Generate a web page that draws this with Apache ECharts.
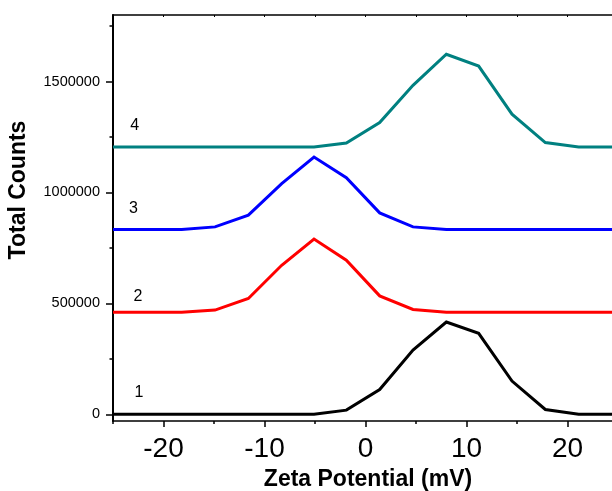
<!DOCTYPE html>
<html>
<head>
<meta charset="utf-8">
<script src="https://cdn.jsdelivr.net/npm/echarts@6/dist/echarts.min.js"></script>
<style>html,body{margin:0;padding:0;background:#fff;}#c{width:612px;height:491px;}</style>
</head>
<body>
<div id="c"></div>
<script>
// Zeta potential (mV)
const zeta = [-25.0, -21.5, -18.2, -14.9, -11.6, -8.3, -5.1, -1.9, 1.4, 4.7, 8.0, 11.2, 14.5, 17.8, 21.1, 24.4];
// Total counts for each curve
const counts1 = [0, 0, 0, 0, 0, 0, 0, 19000, 112000, 290000, 416000, 365000, 150000, 22000, 0, 0];
const counts2 = [460000, 460000, 460000, 470000, 522000, 672000, 790000, 695000, 534000, 473000, 460000, 460000, 460000, 460000, 460000, 460000];
const counts3 = [833000, 833000, 833000, 845000, 898000, 1040000, 1160000, 1067000, 908000, 845000, 833000, 833000, 833000, 833000, 833000, 833000];
const counts4 = [1205000, 1205000, 1205000, 1205000, 1205000, 1205000, 1205000, 1223000, 1315000, 1483000, 1623000, 1570000, 1353000, 1225000, 1205000, 1205000];
const curveNames = ['1', '2', '3', '4'];
const curveColors = ['#000000', '#ff0000', '#0000ff', '#008080'];
const xMajor = [-20, -10, 0, 10, 20];
const xMinor = [-25, -15, -5, 5, 15];
const yMajor = [0, 500000, 1000000, 1500000];
const yMinor = [250000, 750000, 1250000, 1750000];
const xTitle = 'Zeta Potential (mV)';
const yTitle = 'Total Counts';

const allCounts = [counts1, counts2, counts3, counts4];
const chart = echarts.init(document.getElementById('c'), null, {renderer: 'canvas'});
const FONT = 'Liberation Sans, Arial, sans-serif';
const axisLineStyle = {color: '#000', width: 1.5};
const X_MIN = -25, X_MAX = 24.4;

const series = allCounts.map((arr, i) => ({
  name: curveNames[i],
  type: 'line',
  xAxisIndex: 0,
  yAxisIndex: 0,
  data: zeta.map((x, k) => [x, arr[k]]),
  showSymbol: false,
  symbol: 'none',
  lineStyle: {color: curveColors[i], width: 3, join: 'miter'},
  itemStyle: {color: curveColors[i]},
  z: 3 + i,
  animation: false
}));

const option = {
  animation: false,
  backgroundColor: '#fff',
  grid: {left: 113, top: 15, right: 0, height: 406, containLabel: false},
  xAxis: [
    {
      type: 'value', min: X_MIN, max: X_MAX, position: 'bottom',
      axisLine: {show: true, onZero: false, lineStyle: axisLineStyle},
      axisTick: {show: true, inside: false, length: 6, customValues: xMajor, lineStyle: {color: '#000', width: 1.5}},
      axisLabel: {show: true, customValues: xMajor, fontSize: 28, color: '#000', fontFamily: FONT, margin: 14},
      splitLine: {show: false}
    },
    {
      type: 'value', min: X_MIN, max: X_MAX, position: 'bottom', gridIndex: 0,
      axisLine: {show: false, onZero: false},
      axisTick: {show: true, inside: false, length: 3, customValues: xMinor, lineStyle: {color: '#000', width: 1.5}},
      axisLabel: {show: false},
      splitLine: {show: false}
    },
    {
      type: 'value', min: X_MIN, max: X_MAX, position: 'top', gridIndex: 0,
      axisLine: {show: true, onZero: false, lineStyle: axisLineStyle},
      axisTick: {show: true, inside: true, length: 2, customValues: xMajor.concat(xMinor), lineStyle: {color: '#000', width: 1}},
      axisLabel: {show: false},
      splitLine: {show: false}
    }
  ],
  yAxis: [
    {
      type: 'value', min: -30000, max: 1800000, position: 'left',
      axisLine: {show: true, onZero: false, lineStyle: {color: '#000', width: 2}},
      axisTick: {show: true, inside: false, length: 7, customValues: yMajor, lineStyle: {color: '#000', width: 1.5}},
      axisLabel: {show: true, customValues: yMajor, fontSize: 14.5, color: '#000', fontFamily: FONT, margin: 13,
        formatter: v => String(Math.round(v))},
      splitLine: {show: false}
    },
    {
      type: 'value', min: -30000, max: 1800000, position: 'left',
      axisLine: {show: false, onZero: false},
      axisTick: {show: true, inside: false, length: 3.5, customValues: yMinor, lineStyle: {color: '#000', width: 1.5}},
      axisLabel: {show: false},
      splitLine: {show: false}
    }
  ],
  series: series,
  graphic: [
    {type: 'text', x: 368, y: 480, style: {text: xTitle, font: 'bold 23px ' + FONT, fill: '#000', textAlign: 'center', textVerticalAlign: 'middle'}},
    {type: 'text', x: 19, y: 190, rotation: Math.PI / 2, style: {text: yTitle, font: 'bold 23px ' + FONT, fill: '#000', textAlign: 'center', textVerticalAlign: 'middle'}},
    {type: 'text', x: 139, y: 393, style: {text: curveNames[0], font: '16px ' + FONT, fill: '#000', textAlign: 'center', textVerticalAlign: 'middle'}},
    {type: 'text', x: 138, y: 297, style: {text: curveNames[1], font: '16px ' + FONT, fill: '#000', textAlign: 'center', textVerticalAlign: 'middle'}},
    {type: 'text', x: 133.5, y: 209, style: {text: curveNames[2], font: '16px ' + FONT, fill: '#000', textAlign: 'center', textVerticalAlign: 'middle'}},
    {type: 'text', x: 134.7, y: 126, style: {text: curveNames[3], font: '16px ' + FONT, fill: '#000', textAlign: 'center', textVerticalAlign: 'middle'}}
  ]
};
chart.setOption(option);
</script>
</body>
</html>
